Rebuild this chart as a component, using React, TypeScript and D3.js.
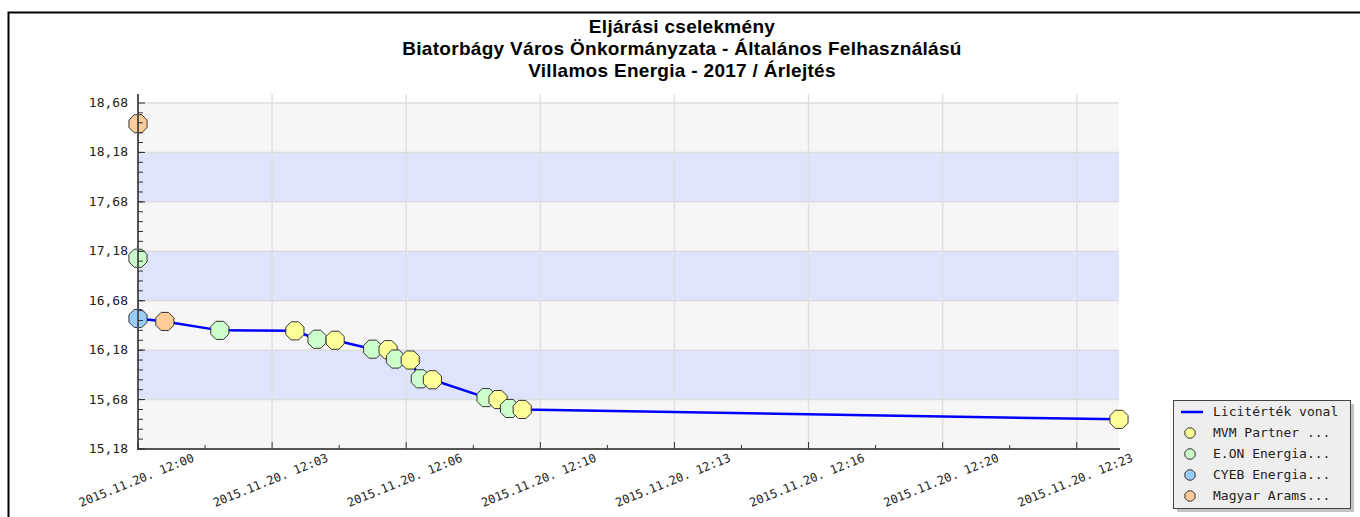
import React from "react";
import * as d3 from "d3";

const titleLines = [
  "Eljárási cselekmény",
  "Biatorbágy Város Önkormányzata - Általános Felhasználású",
  "Villamos Energia - 2017 / Árlejtés",
];

// bidders (legend order) and their marker colours
const bidderNames = ["MVM Partner ...", "E.ON Energia...", "CYEB Energia...", "Magyar Arams..."];
const bidderColors = ["#ffff99", "#ccffcc", "#99ccff", "#ffcc99"];
const lineLabel = "Licitérték vonal";

// bids in time order: time, bidder index, value
const bidTimes = [
  "12:00:00", "12:00:00", "12:00:00", "12:00:40", "12:02:02", "12:03:54", "12:04:27",
  "12:04:54", "12:05:50", "12:06:13", "12:06:24", "12:06:46", "12:07:01", "12:07:19",
  "12:08:39", "12:08:57", "12:09:14", "12:09:33", "12:24:23",
];
const bidBidder = [3, 1, 2, 3, 1, 0, 1, 0, 1, 0, 1, 0, 1, 0, 1, 0, 1, 0, 0];
const bidValues = [
  18.47, 17.11, 16.5, 16.47, 16.38, 16.375, 16.29, 16.28, 16.19, 16.185,
  16.09, 16.08, 15.89, 15.88, 15.7, 15.68, 15.59, 15.58, 15.48,
];

const yMajorTicks = [15.18, 15.68, 16.18, 16.68, 17.18, 17.68, 18.18, 18.68];
const xMajorTicks = [
  "12:00:00", "12:03:20", "12:06:40", "12:10:00", "12:13:20", "12:16:40", "12:20:00", "12:23:20",
];

const parseTime = d3.timeParse("%Y-%m-%d %H:%M:%S");
const day = "2015-11-20 ";
const fmtX = d3.timeFormat("%Y.%m.%d. %H:%M");
const fmtY = (v: number) => d3.format(".2f")(v).replace(".", ",");

const octagon = (r: number) => {
  const pts = d3.range(8).map(i => {
    const a = (Math.PI / 8) + (i * Math.PI) / 4;
    return [r * Math.cos(a), r * Math.sin(a)] as [number, number];
  });
  return d3.line()(pts) + "Z";
};

const App = () => {
  const left = 138, right = 1119, top = 103, bottom = 449;

  const bids = bidTimes.map((t, i) => ({
    time: parseTime(day + t) as Date,
    bidder: bidBidder[i],
    value: bidValues[i],
  }));

  const x = d3.scaleTime()
    .domain([bids[0].time, bids[bids.length - 1].time])
    .range([left, right]);
  const y = d3.scaleLinear().domain([15.18, 18.68]).range([bottom, top]);

  // winning bid line = running minimum
  const linePts: { time: Date; value: number }[] = [];
  let best = Infinity;
  bids.forEach(b => {
    if (b.value < best) {
      best = b.value;
      const last = linePts[linePts.length - 1];
      if (last && +last.time === +b.time) last.value = b.value;
      else linePts.push({ time: b.time, value: b.value });
    }
  });
  const line = d3.line<{ time: Date; value: number }>()
    .x(d => x(d.time))
    .y(d => y(d.value));

  const xMajor = xMajorTicks.map(t => parseTime(day + t) as Date);
  const xMinor = xMajor.map(t => d3.timeSecond.offset(t, 100)).filter(t => x(t) < right);
  const yMinor = d3.range(15.18, 18.68, 0.1).map(v => +v.toFixed(2));

  const bands = d3.range(yMajorTicks.length - 1).map(i => ({
    y0: yMajorTicks[i], y1: yMajorTicks[i + 1], blue: i % 2 === 1,
  }));

  const mono = "'DejaVu Sans Mono', monospace";

  return (
    <svg width={1360} height={517} style={{ position: "absolute", left: 0, top: 0 }}>
      <rect x={0} y={0} width={1360} height={517} fill="#fff" />
      <rect x={8.5} y={12.5} width={1400} height={600} fill="none" stroke="#000" strokeWidth={2} />

      {titleLines.map((t, i) => (
        <text key={i} x={682} y={32.5 + i * 22} textAnchor="middle" letterSpacing={0.3}
          fontFamily="'Liberation Sans', Arial, sans-serif" fontWeight="bold" fontSize={19} fill="#000">
          {t}
        </text>
      ))}

      {bands.map((b, i) => (
        <rect key={i} x={left} y={y(b.y1)} width={right - left} height={y(b.y0) - y(b.y1)}
          fill={b.blue ? "#dde4fc" : "#f6f6f6"} />
      ))}
      {yMajorTicks.map((v, i) => (
        <line key={i} x1={left} x2={right} y1={y(v)} y2={y(v)} stroke="#dddddd" strokeWidth={1.5} />
      ))}
      {xMajor.slice(1).map((t, i) => (
        <line key={i} x1={x(t)} x2={x(t)} y1={top - 9} y2={bottom} stroke="#e0e0e0" strokeWidth={1.5} />
      ))}

      <path d={line(linePts) || ""} fill="none" stroke="#0000ff" strokeWidth={2.5} />

      {bids.map((b, i) => (
        <path key={i} d={octagon(9.8)} transform={`translate(${x(b.time)},${y(b.value)})`}
          fill={bidderColors[b.bidder]} stroke="#333" strokeWidth={1} />
      ))}

      {/* axes */}
      <line x1={left} x2={left} y1={top - 9} y2={bottom + 1} stroke="#555" strokeWidth={2} />
      <line x1={left - 1} x2={right + 1} y1={bottom} y2={bottom} stroke="#555" strokeWidth={2} />
      {yMinor.map((v, i) => (
        <line key={i} x1={left} x2={left + 5} y1={y(v)} y2={y(v)} stroke="#333" strokeWidth={1} />
      ))}
      {yMajorTicks.map((v, i) => (
        <g key={i}>
          <line x1={left} x2={left + 7} y1={y(v)} y2={y(v)} stroke="#333" strokeWidth={1} />
          <text x={left - 10} y={y(v) + 4} textAnchor="end" fontFamily={mono} fontSize={13} fill="#222">
            {fmtY(v)}
          </text>
        </g>
      ))}
      {xMinor.map((t, i) => (
        <line key={i} x1={x(t)} x2={x(t)} y1={bottom} y2={bottom - 4} stroke="#333" strokeWidth={1} />
      ))}
      {xMajor.map((t, i) => (
        <g key={i}>
          <line x1={x(t)} x2={x(t)} y1={bottom} y2={bottom - 7} stroke="#333" strokeWidth={1} />
          <text transform={`translate(${x(t)},${bottom + 35}) rotate(-22)`} textAnchor="middle"
            fontFamily={mono} fontSize={12} fill="#222">
            {fmtX(t)}
          </text>
        </g>
      ))}

      {/* legend */}
      <rect x={1177} y={404} width={177} height={108} fill="#aaa" opacity={0.7} />
      <rect x={1173.5} y={400.5} width={177} height={108} fill="#eeeeee" stroke="#444" strokeWidth={1} />
      <line x1={1181} x2={1203} y1={412} y2={412} stroke="#0000ff" strokeWidth={2.5} />
      <text x={1213} y={416} fontFamily={mono} fontSize={13} fill="#222">{lineLabel}</text>
      {bidderNames.map((n, i) => (
        <g key={i} transform={`translate(0,${433 + i * 21})`}>
          <path d={octagon(5.5)} transform="translate(1190,0)" fill={bidderColors[i]} stroke="#333" strokeWidth={1} />
          <text x={1213} y={4} fontFamily={mono} fontSize={13} fill="#222">{n}</text>
        </g>
      ))}
    </svg>
  );
};

export default App;
